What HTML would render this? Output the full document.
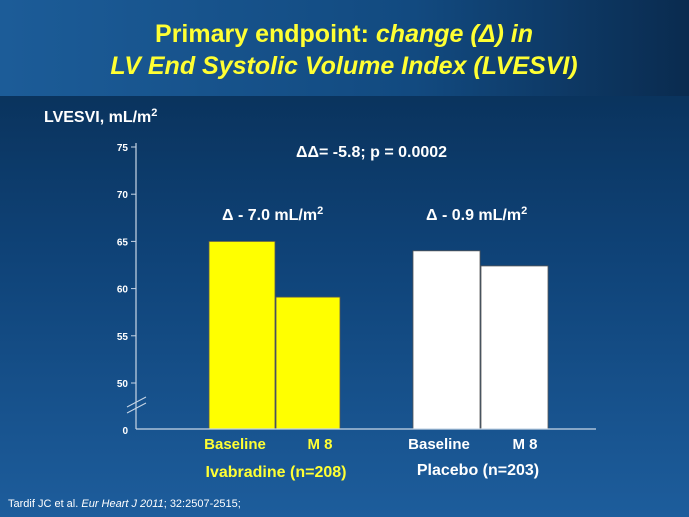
<!DOCTYPE html>
<html><head><meta charset="utf-8"><style>
html,body{margin:0;padding:0;width:689px;height:517px;overflow:hidden;font-family:"Liberation Sans",sans-serif;}
svg text{font-family:"Liberation Sans",sans-serif;font-weight:bold;}
</style></head><body>
<svg width="689" height="517" viewBox="0 0 689 517">
<defs>
<linearGradient id="hdr" x1="0" y1="0" x2="1" y2="0"><stop offset="0" stop-color="#1c5c98"/><stop offset="0.6" stop-color="#124a80"/><stop offset="1" stop-color="#0a2b4f"/></linearGradient>
<linearGradient id="bg" x1="0" y1="0" x2="0" y2="1"><stop offset="0" stop-color="#072a4e"/><stop offset="0.5" stop-color="#0f4378"/><stop offset="1" stop-color="#1d5d9c"/></linearGradient>
</defs>
<rect x="0" y="0" width="689" height="517" fill="url(#bg)"/>
<rect x="0" y="0" width="689" height="96" fill="url(#hdr)"/>
<text x="344" y="42" text-anchor="middle" font-size="25" fill="#ffff33">Primary endpoint: <tspan font-style="italic">change (Δ) in</tspan></text>
<text x="344" y="74" text-anchor="middle" font-size="25" font-style="italic" fill="#ffff33">LV End Systolic Volume Index (LVESVI)</text>
<text x="44" y="122" font-size="16" fill="#fff">LVESVI, mL/m<tspan font-size="11" dy="-6">2</tspan></text>
<g id="chart"></g>
<text x="296" y="157" font-size="16" fill="#fff">ΔΔ= -5.8; p = 0.0002</text>
<text x="222" y="220" font-size="16" fill="#fff">Δ - 7.0 mL/m<tspan font-size="11" dy="-6">2</tspan></text>
<text x="426" y="220" font-size="16" fill="#fff">Δ - 0.9 mL/m<tspan font-size="11" dy="-6">2</tspan></text>
<text x="276" y="477" text-anchor="middle" font-size="16" fill="#ffff33">Ivabradine (n=208)</text>
<text x="478" y="475" text-anchor="middle" font-size="16" fill="#fff">Placebo (n=203)</text>
<text x="8" y="507" font-size="11" font-weight="normal" fill="#fff" style="font-weight:normal">Tardif JC et al. <tspan font-style="italic">Eur Heart J 2011</tspan>; 32:2507-2515;</text>
</svg>
<script>
const categories=["Baseline","M 8","Baseline","M 8"];
const values=[65.0,59.1,64.0,62.4];
const colors=["#ffff00","#ffff00","#ffffff","#ffffff"];
const tickLabels=[50,55,60,65,70,75];
const NS="http://www.w3.org/2000/svg";
const g=document.getElementById('chart');
const y=v=>383-(v-50)*9.44;
const barX=[209,276,413,481], barW=[66,64,67,67];
function mk(t,a){const e=document.createElementNS(NS,t);for(const k in a)e.setAttribute(k,a[k]);g.appendChild(e);return e;}
tickLabels.forEach((t,i)=>{
 const l=mk('line',{x1:131,x2:136,y1:y(t),y2:y(t),stroke:'#c8d6e6','stroke-width':1});
 
 
 const tx=mk('text',{x:128,y:y(t)+4,'text-anchor':'end','font-size':10,fill:'#fff'});
 tx.textContent=t;
 
 
});
const z=mk('text',{x:128,y:434,'text-anchor':'end','font-size':10,fill:'#fff'});z.textContent='0';


values.forEach((v,i)=>{
 const r=mk('rect',{x:barX[i],y:y(v),width:barW[i],height:429-y(v),fill:colors[i],stroke:'#555','stroke-width':0.8});
 
 
 const t=mk('text',{x:barX[i]+(i%2?44:26),y:449,'text-anchor':'middle','font-size':15,fill:i<2?'#ffff33':'#fff'});
 t.textContent=categories[i];
 
 
});
const ya=mk('line',{x1:136,x2:136,y1:143,y2:429,stroke:'#c8d6e6','stroke-width':1.2});


const xa=mk('line',{x1:136,x2:596,y1:429,y2:429,stroke:'#c8d6e6','stroke-width':1.2});


[0,6].forEach(d=>{const b=mk('line',{x1:127,x2:146,y1:407+d,y2:397+d,stroke:'#c8d6e6','stroke-width':1});

});
</script>
</body></html>
